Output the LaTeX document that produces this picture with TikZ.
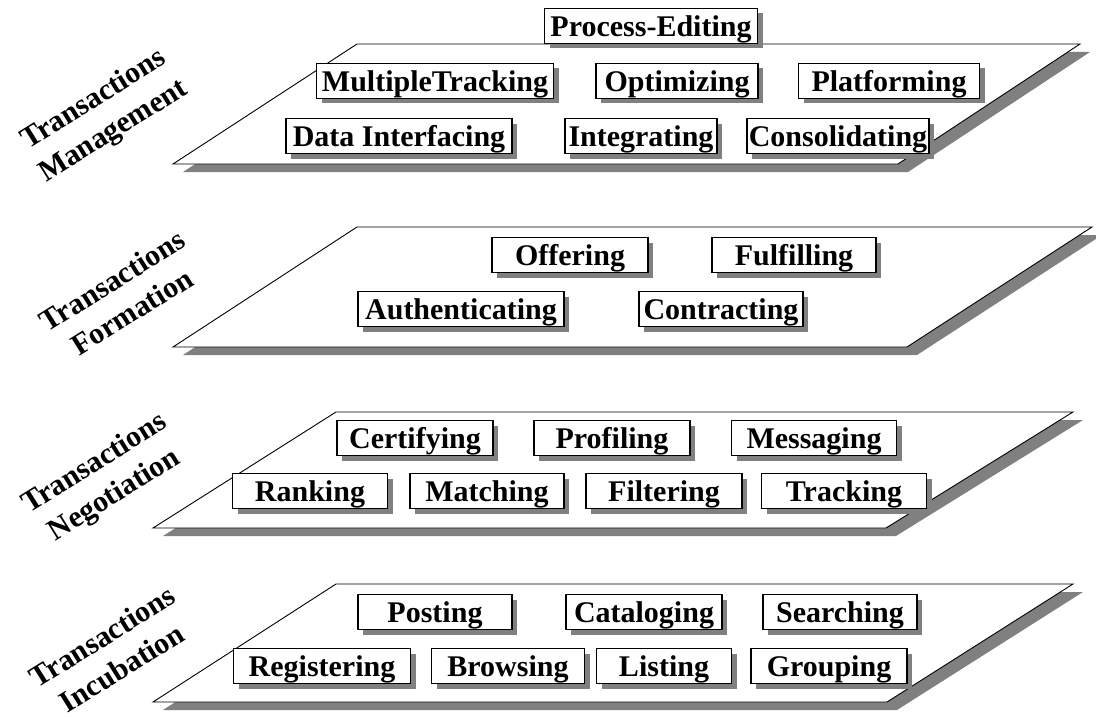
\documentclass[tikz,border=0pt]{standalone}
\usepackage{fontspec}
\setmainfont{Liberation Serif}
\usetikzlibrary{shadows}

\begin{document}
\begin{tikzpicture}[x=1pt,y=-1pt,
  plane/.style={draw=black, line width=0.9pt, fill=white},
  planeshadow/.style={fill=black!50, draw=none},
  tbox/.style={draw=black, line width=1.8pt, fill=white, inner xsep=2pt, inner ysep=2pt,
    text height=26pt, text depth=5pt, font=\fontsize{30}{34}\bfseries\selectfont,
    drop shadow={shadow xshift=5pt, shadow yshift=-5pt, fill=black!50, opacity=1}},
  layer/.style={align=center, rotate=32, font=\fontsize{30}{37}\bfseries\selectfont}]

% Frame
\useasboundingbox (0,0) rectangle (1096,717);

% Layer planes with shadows
\foreach \ya/\yb/\xa/\xb/\xc/\xd in {44/164/173/357/1080/898, 227/347/173/357/1092/907, 412/528/153/336/1073/886, 584/702/153/336/1073/887}
{
\fill[planeshadow] (\xa+10,\yb+8) -- (\xb+10,\ya+8) -- (\xc+10,\ya+8) -- (\xd+10,\yb+8) -- cycle;
\draw[plane] (\xa,\yb) -- (\xb,\ya) -- (\xc,\ya) -- (\xd,\yb) -- cycle;
}

% Activity boxes
\foreach \n/\x/\y/\w/\t in {
procedit/651/26/213/Process-Editing,
multitrack/435/81/237/MultipleTracking,
optim/677/81/162/Optimizing,
platform/889/81/181/Platforming,
datainter/399/136/226/Data Interfacing,
integr/641/136/152/Integrating,
consol/838/136/182/Consolidating,
offer/570/255/156/Offering,
fulfil/794/255/164/Fulfilling,
authent/461/309/206/Authenticating,
contract/721/309/164/Contracting,
certif/415/438/156/Certifying,
profil/612/438/156/Profiling,
messag/814/438/165/Messaging,
rank/310/491/155/Ranking,
match/487/491/154/Matching,
filter/664/491/156/Filtering,
track/844/491/165/Tracking,
post/435/612/154/Posting,
catalog/644/612/156/Cataloging,
search/840/612/154/Searching,
regist/322/666/177/Registering,
brows/508/666/153/Browsing,
list/664/666/135/Listing,
group/829/666/156/Grouping}
{
\node[tbox, minimum width=\w pt] (\n) at (\x,\y) {\t};
}

% Layer names
\node[layer] (mgmt) at (104,116) {Transactions\\Management};
\node[layer] (form) at (122,296) {Transactions\\Formation};
\node[layer] (nego) at (105,480) {Transactions\\Negotiation};
\node[layer] (incub) at (112,652) {Transactions\\Incubation};

\end{tikzpicture}
\end{document}
